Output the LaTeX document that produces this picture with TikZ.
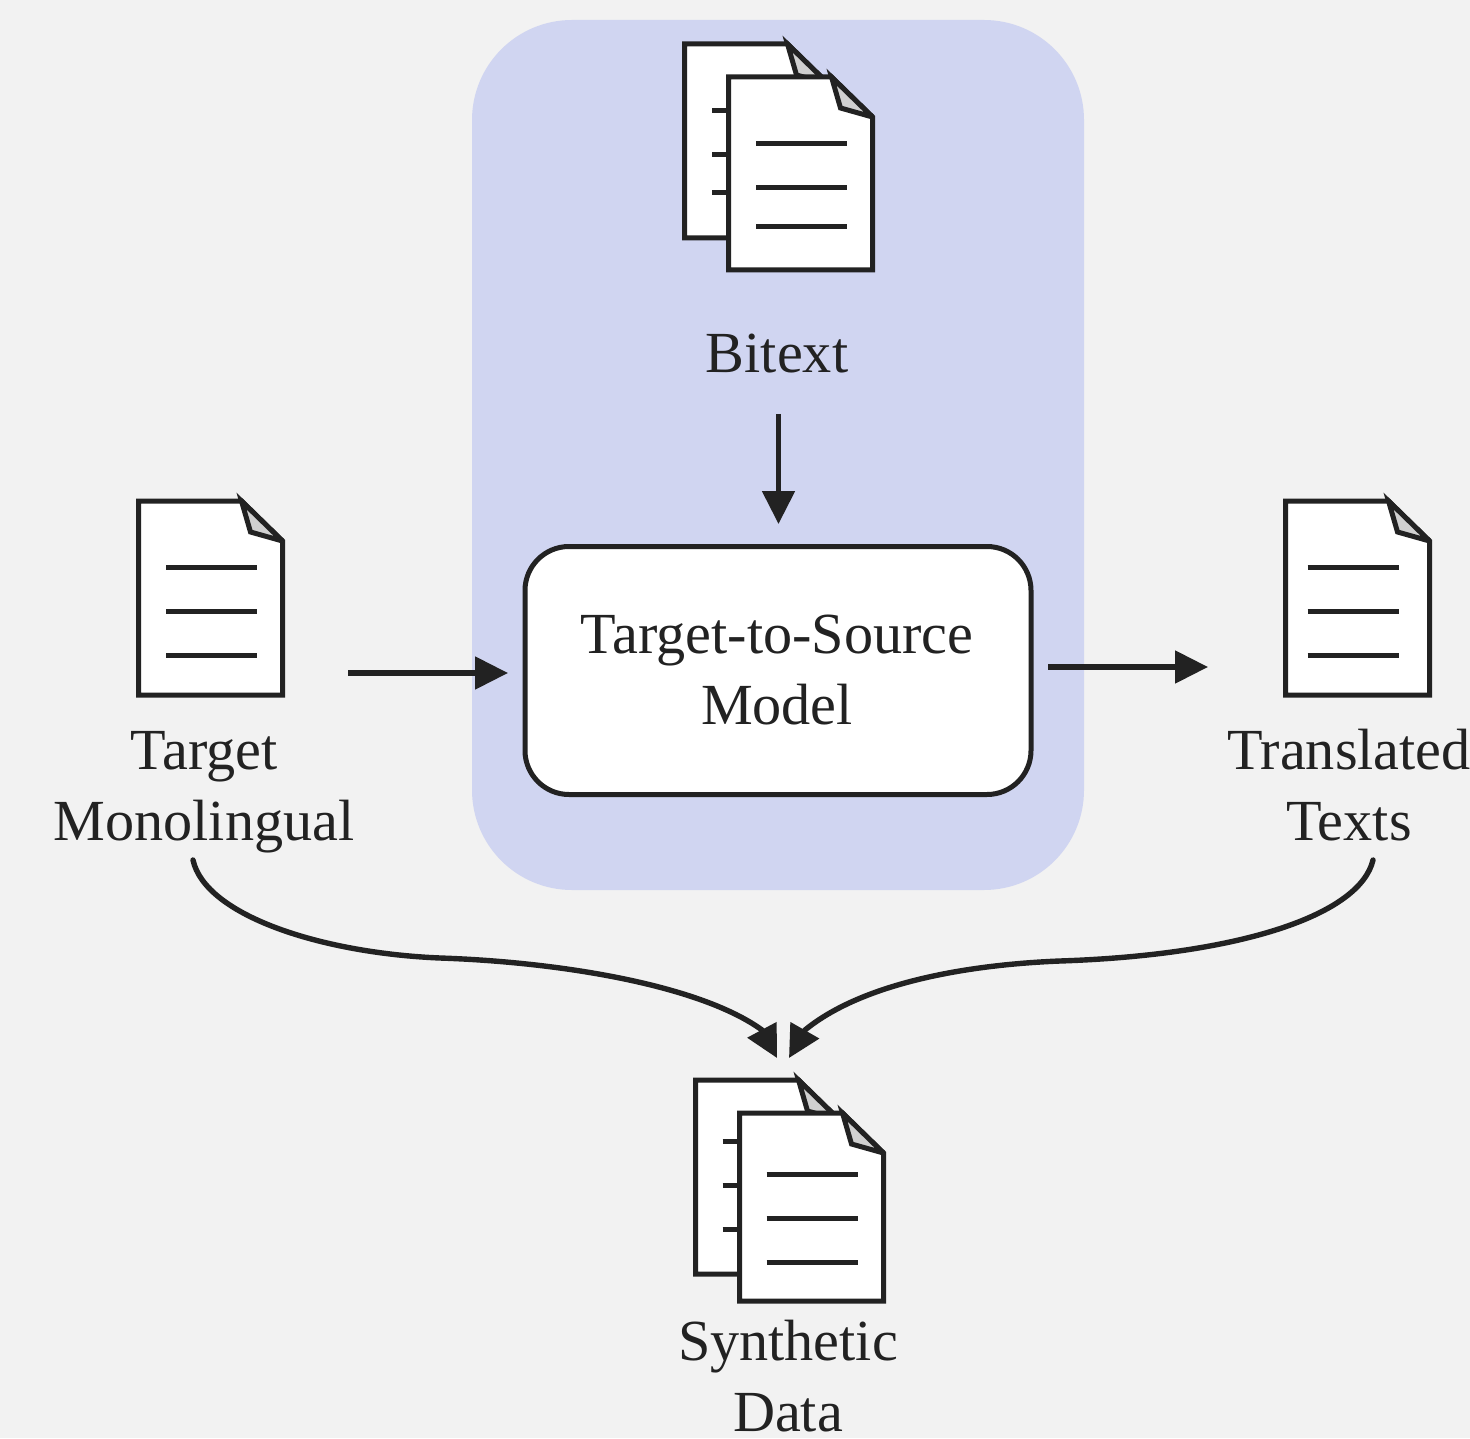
\documentclass[tikz,border=0pt]{standalone}
\usepackage{fontspec}
\setmainfont{Liberation Serif}
\usetikzlibrary{arrows.meta}
\definecolor{bgc}{HTML}{F2F2F2}
\definecolor{panelc}{HTML}{D0D5F1}
\definecolor{inkc}{HTML}{222222}
\definecolor{foldc}{HTML}{D0D0D0}
\tikzset{
  x=0.5pt,y=-0.5pt,
  page/.style={draw=inkc,fill=white,line width=2.5pt,miter limit=10},
  foldpart/.style={draw=inkc,line width=2.5pt,miter limit=10},
  rule/.style={draw=inkc,line width=2.5pt},
  label/.style={text=inkc,align=center,inner sep=0pt,font=\fontsize{29.1}{35.7}\selectfont},
  flow/.style={draw=inkc,line width=2.6pt,-{Triangle[length=16.5pt,width=16pt]}},
  merge/.style={draw=inkc,line width=2.7pt,-{Triangle[length=16pt,width=16pt]},line cap=round},
}
% #1 left, #2 top, #3 height, #4 rule start, #5 #6 #7 rule offsets
\newcommand{\docpage}[7]{%
  \begin{scope}[shift={(#1,#2)}]
    \filldraw[page] (0,0) -- (103,0) -- (144,40) -- (144,#3) -- (0,#3) -- cycle;
    \fill[foldc] (103,0) -- (112,31) -- (144,40) -- cycle;
    \draw[foldpart] (144,40) -- (112,31) -- (103,0) -- (144,40);
    \draw[rule] (#4,#5) -- +(91,0);
    \draw[rule] (#4,#6) -- +(91,0);
    \draw[rule] (#4,#7) -- +(91,0);
  \end{scope}}
\begin{document}
\begin{tikzpicture}
\useasboundingbox (0,0) rectangle (1470,1438);
\fill[bgc] (0,0) rectangle (1470,1438);
\fill[panelc,rounded corners=50pt] (472,20) rectangle (1084,890);

\docpage{684.5}{44}{194}{27.5}{66.5}{110.5}{149}
\docpage{728.5}{77}{193}{27.5}{66.5}{110.5}{149.5}
\docpage{138.5}{501}{194}{27.5}{66.5}{110.5}{154.5}
\docpage{1285.5}{501}{194}{22}{66.5}{110.5}{154.5}
\docpage{695.5}{1080}{194}{27}{61}{105}{149}
\docpage{739.5}{1113}{188}{27}{61}{105}{149}

\node[draw=inkc,fill=white,line width=2.5pt,rounded corners=22pt,minimum width=253pt,minimum height=124pt,inner sep=0pt] (model) at (778,670.5) {};
\node[label] (modeltext) at (777,670) {Target-to-Source\\Model};
\node[label] (bitext) at (777,354) {Bitext};
\node[label] (mono) at (204,792) {Target\\Monolingual};
\node[label] (trans) at (1349,785) {Translated\\Texts};
\node[label] (synth) at (788,1376) {Synthetic\\Data};

\coordinate (bitextout) at (778.5,414);
\coordinate (modelin) at (778.5,524);
\coordinate (monoout) at (348,673);
\coordinate (modelleft) at (508,673);
\coordinate (modelout) at (1048,667);
\coordinate (transin) at (1208,667);
\coordinate (monocurve) at (193,860);
\coordinate (transcurve) at (1373,860);
\coordinate (synthl) at (777,1058);
\coordinate (synthr) at (789,1058);

\draw[flow] (bitextout) -- (modelin);
\draw[flow] (monoout) -- (modelleft);
\draw[flow] (modelout) -- (transin);
\draw[merge] (monocurve) .. controls (205,915) and (320,953) .. (440,958) .. controls (560,962) and (700,985) .. (762,1030) -- (synthl);
\draw[merge] (transcurve) .. controls (1360,915) and (1240,955) .. (1060,961) .. controls (960,965) and (860,985) .. (805,1030) -- (synthr);
\end{tikzpicture}
\end{document}
